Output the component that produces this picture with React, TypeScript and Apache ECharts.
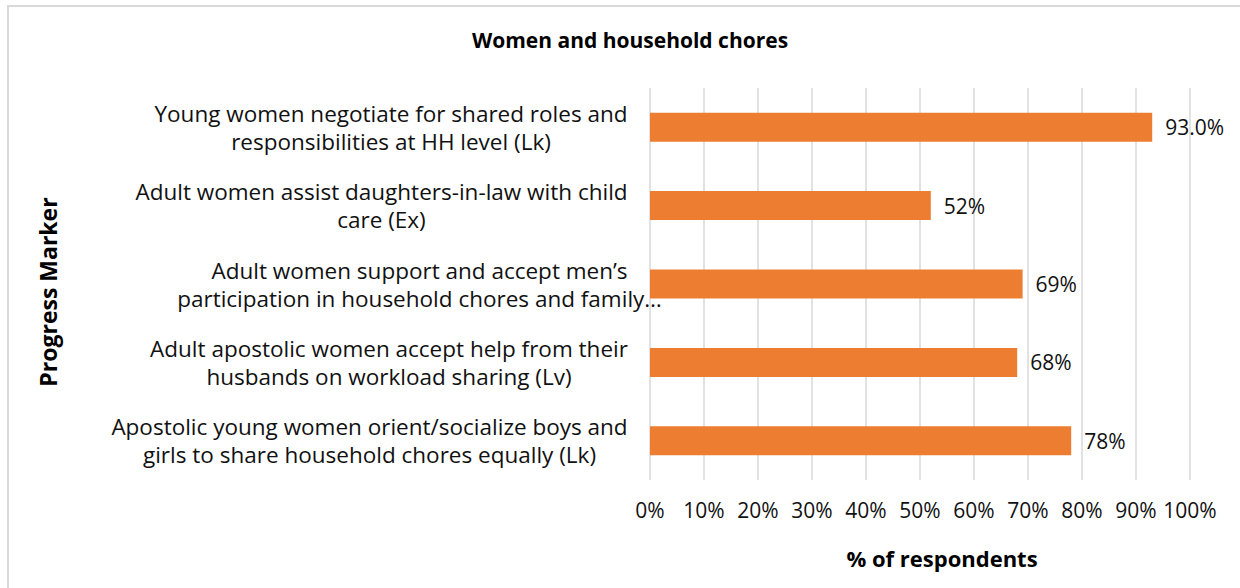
import React, { useEffect, useRef } from "react";
import * as echarts from "echarts";

const titleText = "Women and household chores";
const categories = [
  "Young women negotiate for shared roles and\nresponsibilities at HH level (Lk)",
  "Adult women assist daughters-in-law with child\ncare (Ex)",
  "Adult women support and accept men’s\nparticipation in household chores and family…",
  "Adult apostolic women accept help from their\nhusbands on workload sharing (Lv)",
  "Apostolic young women orient/socialize boys and\ngirls to share household chores equally (Lk)",
];
const values = [93.0, 52, 69, 68, 78];
const labelDecimals = [1, 0, 0, 0, 0];
const xTicks = [0, 10, 20, 30, 40, 50, 60, 70, 80, 90, 100];
const xAxisName = "% of respondents";
const yAxisName = "Progress Marker";

const FONT = "Open Sans";
const FS = 22.5;
const TFS = 21;

function measure(text: string, font: string): number {
  const c = document.createElement("canvas");
  const ctx = c.getContext("2d");
  if (!ctx) return text.length * 10;
  ctx.font = font;
  return ctx.measureText(text).width;
}

export default function App() {
  const ref = useRef<HTMLDivElement>(null);
  useEffect(() => {
    if (!ref.current) return;
    const chart = echarts.init(ref.current, null, { renderer: "svg" });
    const rich: Record<string, any> = {};
    categories.forEach((c, i) => {
      const first = c.split("\n")[0];
      const w = Math.ceil(measure(first, `${FS}px "${FONT}"`));
      rich["r" + i] = {
        width: w,
        align: "center",
        fontFamily: FONT,
        fontSize: FS,
        lineHeight: 28,
        color: "#111",
      };
    });
    chart.setOption({
      animation: false,
      backgroundColor: "#fff",
      textStyle: { fontFamily: FONT },
      title: {
        text: titleText,
        left: 630,
        textAlign: "center",
        top: 29,
        padding: 0,
        textStyle: { fontFamily: FONT, fontWeight: "bold", fontSize: 21, color: "#000" },
      },
      graphic: [
        {
          type: "rect",
          shape: { x: 8, y: 6, width: 1300, height: 700 },
          style: { fill: "none", stroke: "#D9D9D9", lineWidth: 2 },
          silent: true,
        },
      ],
      grid: { left: 650, right: 50, top: 88, bottom: 108, containLabel: false },
      xAxis: {
        type: "value",
        min: 0,
        max: 100,
        interval: 10,
        axisLine: { show: false },
        axisTick: { show: false },
        splitLine: { show: true, lineStyle: { color: "#D9D9D9", width: 1.5 } },
        axisLabel: {
          margin: 19,
          fontFamily: FONT,
          fontSize: TFS,
          color: "#111",
          formatter: (v: number) => (xTicks.includes(v) ? `${v}%` : ""),
        },
        name: xAxisName,
        nameLocation: "middle",
        nameGap: 67,
        nameTextStyle: {
          fontFamily: FONT,
          fontWeight: "bold",
          fontSize: 22,
          color: "#000",
          padding: [0, 0, 0, 44],
        },
      },
      yAxis: {
        type: "category",
        inverse: true,
        data: categories,
        axisLine: { show: false },
        axisTick: { show: false },
        axisLabel: {
          margin: 22,
          align: "right",
          fontFamily: FONT,
          fontSize: FS,
          lineHeight: 28,
          color: "#111",
          formatter: (v: string, i: number) =>
            v
              .split("\n")
              .map((l) => `{r${i}|${l}}`)
              .join("\n"),
          rich,
        },
        name: yAxisName,
        nameLocation: "middle",
        nameGap: 591,
        nameRotate: 90,
        nameTextStyle: {
          fontFamily: FONT,
          fontWeight: "bold",
          fontSize: 23,
          color: "#000",
          padding: [0, 16, 0, 0],
        },
      },
      series: [
        {
          type: "bar",
          data: values,
          barCategoryGap: "63%",
          itemStyle: { color: "#ED7D31" },
          label: {
            show: true,
            position: "right",
            distance: 13,
            fontFamily: FONT,
            fontSize: TFS,
            color: "#111",
            formatter: (p: any) => `${values[p.dataIndex].toFixed(labelDecimals[p.dataIndex])}%`,
          },
        },
      ],
    });
    return () => chart.dispose();
  }, []);
  return (
    <div
      ref={ref}
      style={{ position: "fixed", left: 0, top: 0, width: 1240, height: 588, background: "#fff" }}
    />
  );
}
